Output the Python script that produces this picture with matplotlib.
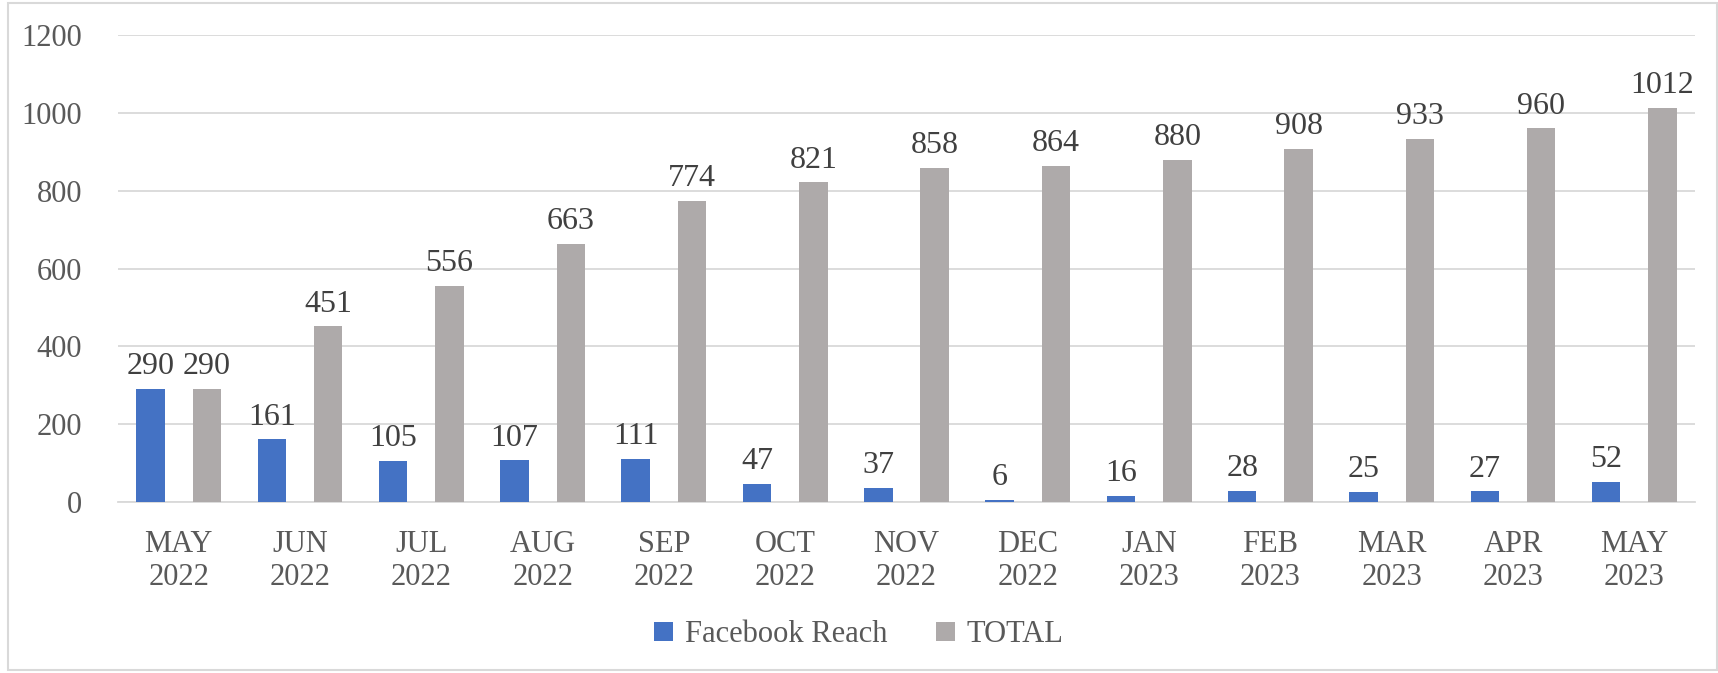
import numpy as np
import matplotlib
matplotlib.use("Agg")
import matplotlib.pyplot as plt
from matplotlib.patches import Rectangle

months = ["MAY\n2022", "JUN\n2022", "JUL\n2022", "AUG\n2022", "SEP\n2022", "OCT\n2022",
          "NOV\n2022", "DEC\n2022", "JAN\n2023", "FEB\n2023", "MAR\n2023", "APR\n2023", "MAY\n2023"]
facebookReach = [290, 161, 105, 107, 111, 47, 37, 6, 16, 28, 25, 27, 52]
total = [290, 451, 556, 663, 774, 821, 858, 864, 880, 908, 933, 960, 1012]

plt.rcParams['font.family'] = ['Liberation Serif', 'DejaVu Serif']
textColor = "#595959"
labelColor = "#404040"
blue = "#4472C4"
gray = "#AEAAAA"

fig = plt.figure(figsize=(17.18, 6.73), dpi=100)
ax = fig.add_axes([118/1718, 1 - 502/673, (1695-118)/1718, (502-35)/673])

x = np.arange(len(months))
w = 0.235
off = 0.2325
b1 = ax.bar(x - off, facebookReach, w, color=blue, label="Facebook Reach", zorder=3)
b2 = ax.bar(x + off, total, w, color=gray, label="TOTAL", zorder=3)

# value labels above each bar
for bars, vals in ((b1, facebookReach), (b2, total)):
    for rect, v in zip(bars, vals):
        ax.text(rect.get_x() + rect.get_width()/2, v + 20, str(v), ha="center", va="bottom",
                fontsize=23, color=labelColor)

ax.set_xlim(-0.5, len(months) - 0.5)
ax.set_ylim(0, 1200)
ax.set_yticks(range(0, 1201, 200))
ax.yaxis.grid(True, color="#D9D9D9", linewidth=1.3, zorder=0)
for s in ["top", "right", "left"]:
    ax.spines[s].set_visible(False)
ax.spines["bottom"].set_color("#D9D9D9")
ax.spines["bottom"].set_linewidth(1.3)
ax.tick_params(axis="both", length=0, labelsize=22, colors=textColor)
ax.tick_params(axis="y", pad=26)
ax.tick_params(axis="x", pad=20)
ax.set_xticks(x)
ax.set_xticklabels(months, linespacing=1.2)

leg = fig.legend(loc="center", bbox_to_anchor=(0.5, 1 - 635/673), ncol=2, frameon=False,
                 fontsize=22, handlelength=0.6, handleheight=0.6, handletextpad=0.4,
                 columnspacing=1.6)
for t in leg.get_texts():
    t.set_color(textColor)

# outer chart border
fig.patches.append(Rectangle((8/1718, 3/673), 1 - 9/1718, 1 - 6/673, transform=fig.transFigure,
                             fill=False, edgecolor="#D9D9D9", linewidth=1.5))

fig.savefig("out.png", dpi=100)
